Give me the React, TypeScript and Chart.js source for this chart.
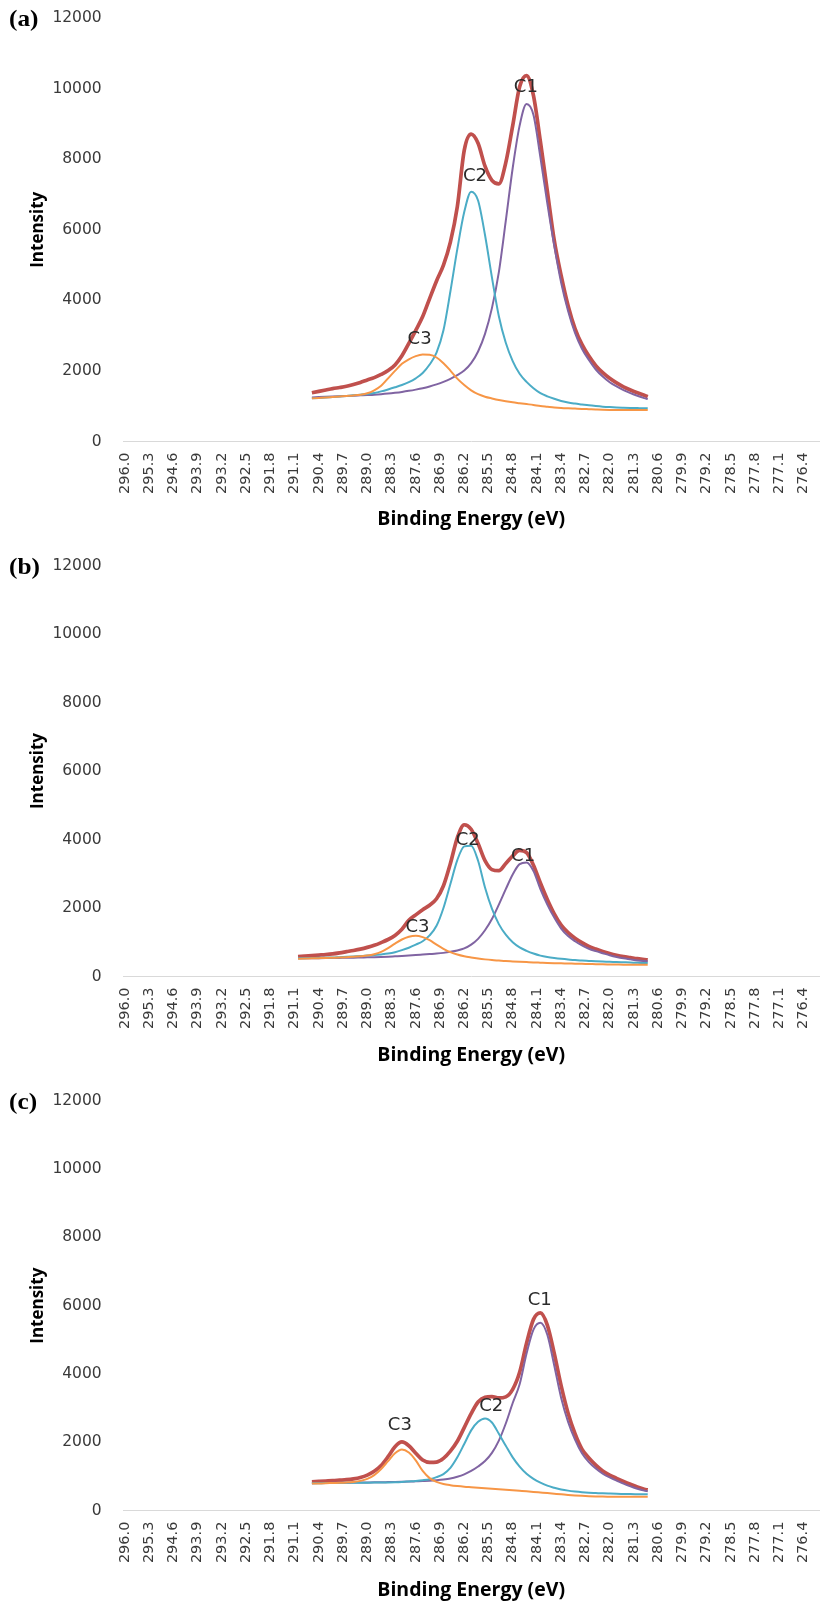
import React, { useEffect, useRef } from "react";
import { Chart, registerables } from "chart.js";

Chart.register(...registerables);

// ---------- shared axis data ----------
const xTickValues = [
  296.0, 295.3, 294.6, 293.9, 293.2, 292.5, 291.8, 291.1, 290.4, 289.7, 289.0, 288.3, 287.6, 286.9, 286.2,
  285.5, 284.8, 284.1, 283.4, 282.7, 282.0, 281.3, 280.6, 279.9, 279.2, 278.5, 277.8, 277.1, 276.4,
];
const yMin = 0;
const yMax = 12000;
const yStep = 2000;

// ---------- panel (a) ----------
const energyA = [
  290.6, 290.4, 290.2, 290.0, 289.8, 289.6, 289.4, 289.2, 289.0, 288.8, 288.6, 288.4, 288.2, 288.0, 287.8,
  287.6, 287.4, 287.2, 287.0, 286.8, 286.6, 286.4, 286.2, 286.0, 285.8, 285.6, 285.4, 285.2, 285.0, 284.8,
  284.6, 284.4, 284.2, 284.0, 283.8, 283.6, 283.4, 283.2, 283.0, 282.8, 282.6, 282.4, 282.2, 282.0, 281.8,
  281.6, 281.4, 281.2, 281.0, 280.9,
];
const totalA = [
  1380, 1420, 1460, 1500, 1530, 1565, 1615, 1675, 1745, 1810, 1900, 2010, 2170, 2430, 2780, 3150, 3540, 4050,
  4550, 5000, 5650, 6650, 8250, 8710, 8450, 7800, 7400, 7300, 7900, 8950, 10050, 10370, 9800, 8500, 7100,
  5700, 4700, 3850, 3200, 2750, 2420, 2150, 1950, 1790, 1660, 1550, 1460, 1380, 1310, 1270,
];
const c1A = [
  1250, 1258, 1266, 1274, 1282, 1290, 1298, 1307, 1316, 1326, 1340, 1358, 1380, 1405, 1435, 1470, 1510, 1560,
  1620, 1690, 1775, 1880, 2010, 2220, 2550, 3050, 3780, 4800, 6250, 7750, 8950, 9560, 9250, 8050, 6750, 5550,
  4500, 3700, 3080, 2630, 2310, 2040, 1840, 1680, 1560, 1455, 1370, 1295, 1230, 1200,
];
const c2A = [
  1222, 1236, 1250, 1264, 1278, 1292, 1308, 1325, 1345, 1375, 1420, 1475, 1535, 1600, 1680, 1790, 1940, 2180,
  2520, 3150, 4250, 5450, 6500, 7080, 6830, 5850, 4650, 3550, 2800, 2280, 1920, 1690, 1510, 1370, 1280, 1210,
  1150, 1105, 1075, 1050, 1025, 1005, 988, 975, 965, 958, 952, 947, 942, 940,
];
const c3A = [
  1222, 1235, 1248, 1262, 1276, 1290, 1305, 1325, 1365, 1450, 1580, 1790, 2000, 2200, 2330, 2420, 2465, 2455,
  2380, 2220, 2010, 1780, 1600, 1450, 1340, 1270, 1220, 1175, 1140, 1110, 1085, 1060, 1035, 1005, 985, 965,
  950, 940, 932, 924, 915, 906, 898, 893, 891, 890, 890, 890, 890, 890,
];
const peakNamesA = ["C1", "C2", "C3"];
const peakEnergyA = [284.42, 285.89, 287.49];
const peakLabelYA = [10037, 7525, 2886];

// ---------- panel (b) ----------
const energyB = [
  291.0, 290.8, 290.6, 290.4, 290.2, 290.0, 289.8, 289.6, 289.4, 289.2, 289.0, 288.8, 288.6, 288.4, 288.2,
  288.0, 287.8, 287.6, 287.4, 287.2, 287.0, 286.8, 286.6, 286.4, 286.2, 286.0, 285.8, 285.6, 285.4, 285.2,
  285.0, 284.8, 284.6, 284.4, 284.2, 284.0, 283.8, 283.6, 283.4, 283.2, 283.0, 282.8, 282.6, 282.4, 282.2,
  282.0, 281.8, 281.6, 281.4, 281.2, 281.0, 280.9,
];
const totalB = [
  580, 595, 610, 625, 640, 660, 690, 725, 760, 800, 850, 910, 990, 1080, 1200, 1380, 1640, 1800, 1950, 2080,
  2270, 2650, 3300, 4050, 4430, 4300, 3880, 3380, 3120, 3090, 3300, 3520, 3680, 3620, 3250, 2730, 2250, 1830,
  1500, 1280, 1120, 990, 880, 800, 730, 670, 620, 580, 550, 520, 495, 485,
];
const c1B = [
  530, 532, 534, 536, 538, 540, 543, 546, 550, 555, 560, 565, 572, 580, 590, 600, 612, 625, 640, 655, 670, 690,
  720, 760, 820, 930, 1100, 1350, 1680, 2100, 2550, 2980, 3280, 3330, 3080, 2550, 2100, 1720, 1400, 1180, 1030,
  910, 810, 740, 680, 620, 570, 530, 500, 470, 450, 442,
];
const c2B = [
  530, 535, 540, 545, 550, 555, 565, 575, 585, 595, 610, 625, 645, 670, 710, 770, 840, 930, 1030, 1200, 1480,
  2000, 2700, 3400, 3800, 3820, 3380, 2600, 1980, 1530, 1220, 1000, 850, 750, 670, 610, 570, 540, 515, 495, 480,
  465, 455, 445, 437, 430, 422, 415, 408, 400, 395, 392,
];
const c3B = [
  520, 525, 530, 535, 540, 548, 556, 565, 575, 590, 610, 650, 720, 830, 960, 1080, 1160, 1190, 1150, 1060, 930,
  810, 710, 640, 590, 555, 525, 500, 480, 465, 450, 440, 430, 420, 410, 403, 396, 390, 385, 380, 375, 370, 365,
  360, 355, 352, 349, 346, 344, 342, 341, 340,
];
const peakNamesB = ["C2", "C1", "C3"];
const peakEnergyB = [286.1, 284.5, 287.55];
const peakLabelYB = [3968, 3502, 1430];

// ---------- panel (c) ----------
const energyC = [
  290.6, 290.4, 290.2, 290.0, 289.8, 289.6, 289.4, 289.2, 289.0, 288.8, 288.6, 288.4, 288.2, 288.0, 287.8,
  287.6, 287.4, 287.2, 287.0, 286.8, 286.6, 286.4, 286.2, 286.0, 285.8, 285.6, 285.4, 285.2, 285.0, 284.8,
  284.6, 284.4, 284.2, 284.0, 283.8, 283.6, 283.4, 283.2, 283.0, 282.8, 282.6, 282.4, 282.2, 282.0, 281.8,
  281.6, 281.4, 281.2, 281.0, 280.9,
];
const totalC = [
  845, 855, 865, 875, 890, 905, 930, 970, 1040, 1150, 1320, 1580, 1870, 2010, 1900, 1680, 1480, 1410, 1420,
  1530, 1740, 2030, 2430, 2840, 3180, 3320, 3340, 3300, 3330, 3550, 4050, 4900, 5600, 5790, 5430, 4600, 3650,
  2850, 2250, 1800, 1540, 1330, 1160, 1040, 945, 855, 770, 690, 625, 605,
];
const c1C = [
  800, 805, 810, 812, 815, 818, 820, 822, 825, 828, 830, 835, 840, 845, 850, 858, 866, 875, 890, 910, 940, 990,
  1060, 1160, 1290, 1450, 1690, 2050, 2550, 3150, 3700, 4600, 5300, 5500, 5150, 4250, 3300, 2600, 2080, 1680,
  1420, 1230, 1080, 970, 880, 790, 710, 640, 585, 565,
];
const c2C = [
  800, 803, 806, 808, 810, 812, 814, 816, 818, 820, 822, 825, 830, 840, 855, 870, 890, 920, 980, 1070, 1250,
  1560, 1950, 2350, 2600, 2700, 2580, 2250, 1900, 1560, 1290, 1080, 930, 820, 730, 670, 620, 585, 560, 540, 525,
  515, 505, 498, 492, 488, 484, 481, 478, 476,
];
const c3C = [
  790, 795, 800, 808, 815, 825, 840, 870, 930, 1040, 1220, 1450, 1680, 1790, 1700, 1470, 1160, 950, 840, 780,
  745, 720, 700, 685, 670, 655, 640, 625, 610, 595, 580, 565, 548, 530, 512, 495, 478, 460, 445, 432, 422, 415,
  410, 408, 406, 405, 404, 403, 402, 402,
];
const peakNamesC = ["C1", "C2", "C3"];
const peakEnergyC = [284.02, 285.42, 288.06];
const peakLabelYC = [6166, 3042, 2506];

// ---------- styling ----------
const COLOR_TOTAL = "#C0504D";
const COLOR_C1 = "#8064A2";
const COLOR_C2 = "#4BACC6";
const COLOR_C3 = "#F79646";
const TICK_COLOR = "#3a3a3a";
const TITLE_COLOR = "#000000";

const peakTextPlugin = {
  id: "peakText",
  afterDatasetsDraw(chart: any, _args: any, opts: any) {
    const { ctx, scales } = chart;
    const xs = scales.x;
    const ys = scales.y;
    ctx.save();
    ctx.font = "18px 'DejaVu Sans', sans-serif";
    ctx.fillStyle = "#2b2b2b";
    ctx.textAlign = "center";
    ctx.textBaseline = "middle";
    (opts.names || []).forEach((name: string, i: number) => {
      ctx.fillText(name, xs.getPixelForValue(opts.energies[i]), ys.getPixelForValue(opts.values[i]));
    });
    ctx.restore();
  },
};

type PanelProps = {
  tag: string;
  plotTop: number; // absolute page y of the 12000 line
  plotBottom: number; // absolute page y of the 0 line
  panelBottom: number; // absolute page y where this panel's canvas ends
  xTitleCenter: number; // absolute page y of the x-title centre
  energy: number[];
  total: number[];
  c1: number[];
  c2: number[];
  c3: number[];
  names: string[];
  nameEnergy: number[];
  nameValue: number[];
};

const Y_TICK_PAD = 21.5;
const Y_TICK_SIZE = 15.5;

function Panel(p: PanelProps) {
  const ref = useRef<HTMLCanvasElement | null>(null);
  const innerTop = Y_TICK_SIZE * 1.2 / 2 + Y_TICK_PAD + 0.5;
  const canvasTop = Math.floor(p.plotTop - innerTop);
  const height = p.panelBottom - canvasTop;
  const padTop = p.plotTop - canvasTop;
  const chartBottom = p.plotBottom - canvasTop;
  const titleCenter = p.xTitleCenter - canvasTop;

  useEffect(() => {
    if (!ref.current) return;
    const toPts = (vals: number[]) => p.energy.map((e, i) => ({ x: e, y: vals[i] }));
    const line = (vals: number[], color: string, width: number) => ({
      data: toPts(vals),
      borderColor: color,
      backgroundColor: color,
      borderWidth: width,
      pointRadius: 0,
      fill: false,
      cubicInterpolationMode: "monotone" as const,
    });
    const xTitleSize = 19.5;
    const xTitleLH = xTitleSize * 1.2;
    const xTitlePadBottom = Math.max(0, height - titleCenter - xTitleLH / 2);
    const yTitleSize = 17;
    const yTitleLH = yTitleSize * 1.2;

    const chart = new Chart(ref.current, {
      type: "line",
      data: {
        datasets: [
          line(p.c3, COLOR_C3, 2),
          line(p.c2, COLOR_C2, 2),
          line(p.c1, COLOR_C1, 2),
          line(p.total, COLOR_TOTAL, 3.7),
        ],
      },
      plugins: [peakTextPlugin],
      options: {
        animation: false,
        responsive: false,
        maintainAspectRatio: false,
        layout: { padding: { top: padTop, right: 3, bottom: 0, left: 0 } },
        plugins: {
          legend: { display: false },
          tooltip: { enabled: false },
          peakText: { names: p.names, energies: p.nameEnergy, values: p.nameValue },
        } as any,
        scales: {
          x: {
            type: "linear",
            reverse: true,
            min: 275.95,
            max: 296.05,
            afterBuildTicks: (s: any) => {
              s.ticks = xTickValues.map((v) => ({ value: v }));
            },
            afterFit: (s: any) => {
              s.height = height - chartBottom;
            },
            ticks: {
              autoSkip: false,
              maxRotation: 90,
              minRotation: 90,
              padding: 11,
              color: TICK_COLOR,
              font: { family: "'DejaVu Sans', sans-serif", size: 14.5 },
              callback: (v: any) => Number(v).toFixed(1),
            },
            grid: { display: false, drawTicks: false },
            border: { display: true, color: "#d9d9d9", width: 1 },
            title: {
              display: true,
              text: "Binding Energy (eV)",
              color: TITLE_COLOR,
              font: { family: "'Open Sans', sans-serif", size: xTitleSize, weight: "bold" },
              padding: { top: 0, bottom: xTitlePadBottom },
            },
          },
          y: {
            min: yMin,
            max: yMax,
            afterFit: (s: any) => {
              s.width = 123.2;
            },
            ticks: {
              stepSize: yStep,
              padding: Y_TICK_PAD,
              color: TICK_COLOR,
              font: { family: "'DejaVu Sans', sans-serif", size: Y_TICK_SIZE },
              callback: (v: any) => String(v),
            },
            grid: { display: false, drawTicks: false },
            border: { display: false },
            title: {
              display: true,
              text: "Intensity",
              color: TITLE_COLOR,
              font: { family: "'Open Sans', sans-serif", size: yTitleSize, weight: "bold" },
              padding: { top: 38 - yTitleLH / 2, bottom: 0 },
            },
          },
        },
      } as any,
    });
    return () => chart.destroy();
  }, []);

  const tagSize = 23;
  return (
    <>
      <canvas
        ref={ref}
        width={832}
        height={height}
        style={{ position: "absolute", left: 0, top: canvasTop, width: 832, height, display: "block" }}
      />
      <div
        style={{
          position: "absolute",
          left: 9,
          top: p.plotTop + 2.5 - 13.4,
          fontFamily: "'Liberation Serif', 'Times New Roman', serif",
          fontWeight: "bold",
          fontSize: tagSize,
          lineHeight: `${tagSize}px`,
          color: "#000",
          transform: "scaleX(1.1)",
          transformOrigin: "left top",
          whiteSpace: "nowrap",
        }}
      >
        {p.tag}
      </div>
    </>
  );
}

export default function App() {
  useEffect(() => {
    document.body.style.margin = "0";
  }, []);
  return (
    <div style={{ position: "relative", width: 832, height: 1602, background: "#fff", overflow: "hidden" }}>
      <Panel
        tag="(a)"
        plotTop={18}
        plotBottom={441.5}
        panelBottom={540}
        xTitleCenter={519}
        energy={energyA}
        total={totalA}
        c1={c1A}
        c2={c2A}
        c3={c3A}
        names={peakNamesA}
        nameEnergy={peakEnergyA}
        nameValue={peakLabelYA}
      />
      <Panel
        tag="(b)"
        plotTop={565.5}
        plotBottom={976.5}
        panelBottom={1080}
        xTitleCenter={1055}
        energy={energyB}
        total={totalB}
        c1={c1B}
        c2={c2B}
        c3={c3B}
        names={peakNamesB}
        nameEnergy={peakEnergyB}
        nameValue={peakLabelYB}
      />
      <Panel
        tag="(c)"
        plotTop={1100.8}
        plotBottom={1510.6}
        panelBottom={1602}
        xTitleCenter={1591}
        energy={energyC}
        total={totalC}
        c1={c1C}
        c2={c2C}
        c3={c3C}
        names={peakNamesC}
        nameEnergy={peakEnergyC}
        nameValue={peakLabelYC}
      />
    </div>
  );
}
